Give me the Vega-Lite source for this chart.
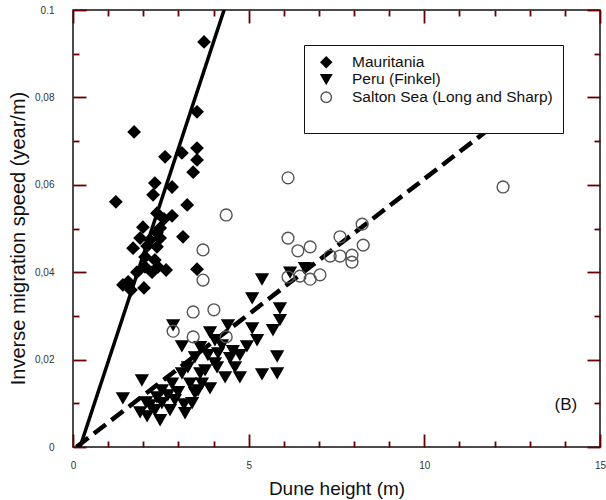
{
  "$schema": "https://vega.github.io/schema/vega-lite/v6.json",
  "width": 527,
  "height": 437,
  "autosize": "none",
  "padding": {"left": 73, "top": 10, "right": 6, "bottom": 53},
  "config": {
    "view": {"stroke": "#111", "strokeWidth": 1.5},
    "font": "Liberation Sans",
    "axis": {"domain": false, "grid": false, "labelFont": "Liberation Sans", "labelFontSize": 10, "labelColor": "#333", "titleFont": "Liberation Sans", "titleFontWeight": "normal", "titleColor": "#111", "labelFlush": false, "labelOverlap": false}
  },
  "datasets": {
    "pts": [
      {"site": "Mauritania", "h": 3.73, "v": 0.0927},
      {"site": "Mauritania", "h": 3.53, "v": 0.0767},
      {"site": "Mauritania", "h": 1.74, "v": 0.0721},
      {"site": "Mauritania", "h": 2.62, "v": 0.0664},
      {"site": "Mauritania", "h": 3.10, "v": 0.0673},
      {"site": "Mauritania", "h": 3.53, "v": 0.0684},
      {"site": "Mauritania", "h": 3.53, "v": 0.0657},
      {"site": "Mauritania", "h": 3.42, "v": 0.0629},
      {"site": "Mauritania", "h": 2.33, "v": 0.0604},
      {"site": "Mauritania", "h": 2.82, "v": 0.0595},
      {"site": "Mauritania", "h": 2.28, "v": 0.0577},
      {"site": "Mauritania", "h": 1.22, "v": 0.0561},
      {"site": "Mauritania", "h": 3.25, "v": 0.0554},
      {"site": "Mauritania", "h": 2.39, "v": 0.0535},
      {"site": "Mauritania", "h": 2.82, "v": 0.0529},
      {"site": "Mauritania", "h": 2.59, "v": 0.0522},
      {"site": "Mauritania", "h": 1.99, "v": 0.0503},
      {"site": "Mauritania", "h": 2.48, "v": 0.0501},
      {"site": "Mauritania", "h": 2.39, "v": 0.0490},
      {"site": "Mauritania", "h": 2.19, "v": 0.0474},
      {"site": "Mauritania", "h": 1.91, "v": 0.0478},
      {"site": "Mauritania", "h": 2.48, "v": 0.0478},
      {"site": "Mauritania", "h": 3.13, "v": 0.0481},
      {"site": "Mauritania", "h": 1.71, "v": 0.0455},
      {"site": "Mauritania", "h": 2.11, "v": 0.0460},
      {"site": "Mauritania", "h": 2.39, "v": 0.0458},
      {"site": "Mauritania", "h": 2.05, "v": 0.0435},
      {"site": "Mauritania", "h": 2.33, "v": 0.0428},
      {"site": "Mauritania", "h": 2.05, "v": 0.0412},
      {"site": "Mauritania", "h": 2.42, "v": 0.0412},
      {"site": "Mauritania", "h": 2.65, "v": 0.0405},
      {"site": "Mauritania", "h": 1.82, "v": 0.0400},
      {"site": "Mauritania", "h": 3.53, "v": 0.0407},
      {"site": "Mauritania", "h": 1.42, "v": 0.0371},
      {"site": "Mauritania", "h": 2.02, "v": 0.0364},
      {"site": "Mauritania", "h": 1.65, "v": 0.0359},
      {"site": "Mauritania", "h": 1.57, "v": 0.0378},
      {"site": "Mauritania", "h": 2.25, "v": 0.0400},
      {"site": "Peru (Finkel)", "h": 2.85, "v": 0.0279},
      {"site": "Peru (Finkel)", "h": 3.10, "v": 0.0231},
      {"site": "Peru (Finkel)", "h": 3.90, "v": 0.0263},
      {"site": "Peru (Finkel)", "h": 4.04, "v": 0.0245},
      {"site": "Peru (Finkel)", "h": 4.41, "v": 0.0279},
      {"site": "Peru (Finkel)", "h": 1.96, "v": 0.0153},
      {"site": "Peru (Finkel)", "h": 1.42, "v": 0.0112},
      {"site": "Peru (Finkel)", "h": 2.08, "v": 0.0103},
      {"site": "Peru (Finkel)", "h": 2.53, "v": 0.0101},
      {"site": "Peru (Finkel)", "h": 3.16, "v": 0.0098},
      {"site": "Peru (Finkel)", "h": 2.11, "v": 0.0071},
      {"site": "Peru (Finkel)", "h": 1.91, "v": 0.0080},
      {"site": "Peru (Finkel)", "h": 3.47, "v": 0.0206},
      {"site": "Peru (Finkel)", "h": 3.27, "v": 0.0183},
      {"site": "Peru (Finkel)", "h": 3.10, "v": 0.0169},
      {"site": "Peru (Finkel)", "h": 2.82, "v": 0.0146},
      {"site": "Peru (Finkel)", "h": 2.53, "v": 0.0130},
      {"site": "Peru (Finkel)", "h": 2.39, "v": 0.0114},
      {"site": "Peru (Finkel)", "h": 2.19, "v": 0.0096},
      {"site": "Peru (Finkel)", "h": 2.33, "v": 0.0085},
      {"site": "Peru (Finkel)", "h": 3.62, "v": 0.0229},
      {"site": "Peru (Finkel)", "h": 4.13, "v": 0.0215},
      {"site": "Peru (Finkel)", "h": 4.04, "v": 0.0192},
      {"site": "Peru (Finkel)", "h": 3.76, "v": 0.0176},
      {"site": "Peru (Finkel)", "h": 3.47, "v": 0.0124},
      {"site": "Peru (Finkel)", "h": 3.67, "v": 0.0146},
      {"site": "Peru (Finkel)", "h": 3.90, "v": 0.0135},
      {"site": "Peru (Finkel)", "h": 3.62, "v": 0.0169},
      {"site": "Peru (Finkel)", "h": 3.33, "v": 0.0146},
      {"site": "Peru (Finkel)", "h": 5.38, "v": 0.0384},
      {"site": "Peru (Finkel)", "h": 5.10, "v": 0.0341},
      {"site": "Peru (Finkel)", "h": 5.89, "v": 0.0318},
      {"site": "Peru (Finkel)", "h": 5.89, "v": 0.0291},
      {"site": "Peru (Finkel)", "h": 5.69, "v": 0.0268},
      {"site": "Peru (Finkel)", "h": 5.10, "v": 0.0272},
      {"site": "Peru (Finkel)", "h": 5.24, "v": 0.0245},
      {"site": "Peru (Finkel)", "h": 4.95, "v": 0.0231},
      {"site": "Peru (Finkel)", "h": 4.55, "v": 0.0220},
      {"site": "Peru (Finkel)", "h": 4.47, "v": 0.0204},
      {"site": "Peru (Finkel)", "h": 5.81, "v": 0.0208},
      {"site": "Peru (Finkel)", "h": 5.38, "v": 0.0167},
      {"site": "Peru (Finkel)", "h": 5.81, "v": 0.0169},
      {"site": "Peru (Finkel)", "h": 4.61, "v": 0.0183},
      {"site": "Peru (Finkel)", "h": 4.75, "v": 0.0160},
      {"site": "Peru (Finkel)", "h": 4.10, "v": 0.0183},
      {"site": "Peru (Finkel)", "h": 3.56, "v": 0.0130},
      {"site": "Peru (Finkel)", "h": 3.39, "v": 0.0101},
      {"site": "Peru (Finkel)", "h": 3.19, "v": 0.0078},
      {"site": "Peru (Finkel)", "h": 6.18, "v": 0.0400},
      {"site": "Peru (Finkel)", "h": 6.60, "v": 0.0410},
      {"site": "Peru (Finkel)", "h": 2.70, "v": 0.0119},
      {"site": "Peru (Finkel)", "h": 2.99, "v": 0.0126},
      {"site": "Peru (Finkel)", "h": 2.76, "v": 0.0085},
      {"site": "Peru (Finkel)", "h": 2.48, "v": 0.0062},
      {"site": "Peru (Finkel)", "h": 2.90, "v": 0.0108},
      {"site": "Peru (Finkel)", "h": 4.24, "v": 0.0233},
      {"site": "Peru (Finkel)", "h": 4.75, "v": 0.0211},
      {"site": "Peru (Finkel)", "h": 3.84, "v": 0.0211},
      {"site": "Peru (Finkel)", "h": 4.33, "v": 0.0160},
      {"site": "Salton Sea (Long and Sharp)", "h": 6.12, "v": 0.0616},
      {"site": "Salton Sea (Long and Sharp)", "h": 4.36, "v": 0.0531},
      {"site": "Salton Sea (Long and Sharp)", "h": 3.70, "v": 0.0451},
      {"site": "Salton Sea (Long and Sharp)", "h": 3.70, "v": 0.0382},
      {"site": "Salton Sea (Long and Sharp)", "h": 3.42, "v": 0.0309},
      {"site": "Salton Sea (Long and Sharp)", "h": 4.01, "v": 0.0314},
      {"site": "Salton Sea (Long and Sharp)", "h": 2.85, "v": 0.0265},
      {"site": "Salton Sea (Long and Sharp)", "h": 3.42, "v": 0.0252},
      {"site": "Salton Sea (Long and Sharp)", "h": 4.36, "v": 0.0252},
      {"site": "Salton Sea (Long and Sharp)", "h": 6.12, "v": 0.0478},
      {"site": "Salton Sea (Long and Sharp)", "h": 6.40, "v": 0.0449},
      {"site": "Salton Sea (Long and Sharp)", "h": 6.75, "v": 0.0458},
      {"site": "Salton Sea (Long and Sharp)", "h": 8.23, "v": 0.0510},
      {"site": "Salton Sea (Long and Sharp)", "h": 7.60, "v": 0.0481},
      {"site": "Salton Sea (Long and Sharp)", "h": 8.26, "v": 0.0462},
      {"site": "Salton Sea (Long and Sharp)", "h": 7.32, "v": 0.0437},
      {"site": "Salton Sea (Long and Sharp)", "h": 7.60, "v": 0.0437},
      {"site": "Salton Sea (Long and Sharp)", "h": 7.94, "v": 0.0439},
      {"site": "Salton Sea (Long and Sharp)", "h": 7.94, "v": 0.0423},
      {"site": "Salton Sea (Long and Sharp)", "h": 6.12, "v": 0.0389},
      {"site": "Salton Sea (Long and Sharp)", "h": 6.46, "v": 0.0391},
      {"site": "Salton Sea (Long and Sharp)", "h": 6.75, "v": 0.0384},
      {"site": "Salton Sea (Long and Sharp)", "h": 7.03, "v": 0.0394},
      {"site": "Salton Sea (Long and Sharp)", "h": 12.24, "v": 0.0595}
    ],
    "solid": [{"h": 0.2, "v": 0}, {"h": 4.3, "v": 0.1}],
    "dashed": [{"h": 0.1, "v": 0}, {"h": 12.3, "v": 0.0756}],
    "tag": [{"h": 14.03, "v": 0.0095, "label": "(B)"}]
  },
  "layer": [
    {
      "data": {"name": "solid"},
      "mark": {"type": "line", "color": "#000", "strokeWidth": 3.5, "clip": true},
      "encoding": {
        "x": {"field": "h", "type": "quantitative", "scale": {"domain": [0, 15], "nice": false, "zero": false},
          "axis": {"orient": "bottom", "values": [0, 5, 10, 15], "ticks": true, "tickColor": "#660000", "tickWidth": 1.8, "offset": -13, "tickSize": 13, "labelPadding": 13, "title": "Dune height (m)", "titleFontSize": 19, "titleY": 54, "titleBaseline": "middle"}},
        "y": {"field": "v", "type": "quantitative", "scale": {"domain": [0, 0.1], "nice": false, "zero": false},
          "axis": {"orient": "left", "values": [0, 0.02, 0.04, 0.06, 0.08, 0.1], "ticks": true, "tickColor": "#660000", "tickWidth": 1.8, "offset": -13, "tickSize": 13, "labelPadding": 19,
            "labelExpr": "datum.value == 0 ? '0' : datum.value > 0.099 ? '0.1' : replace(format(datum.value, '.2f'), '.', ',')",
            "title": "Inverse migration speed (year/m)", "titleFontSize": 20, "titleX": -68, "titleY": 228, "titleBaseline": "middle"}}
      }
    },
    {
      "data": {"name": "dashed"},
      "mark": {"type": "line", "color": "#000", "strokeWidth": 4.5, "strokeDash": [15, 7], "strokeCap": "butt", "clip": true},
      "encoding": {
        "x": {"field": "h", "type": "quantitative", "scale": {"domain": [0, 15], "nice": false, "zero": false},
          "axis": {"orient": "bottom", "values": [1, 2, 3, 4, 6, 7, 8, 9, 11, 12, 13, 14], "ticks": true, "tickColor": "#660000", "tickWidth": 1.8, "offset": -6, "tickSize": 6, "labels": false, "title": null}},
        "y": {"field": "v", "type": "quantitative", "scale": {"domain": [0, 0.1], "nice": false, "zero": false},
          "axis": {"orient": "left", "values": [0.01, 0.03, 0.05, 0.07, 0.09], "ticks": true, "tickColor": "#660000", "tickWidth": 1.8, "offset": -6, "tickSize": 6, "labels": false, "title": null}}
      }
    },
    {
      "data": {"name": "pts"},
      "mark": {"type": "point", "size": 140, "strokeWidth": 1.4, "opacity": 1},
      "encoding": {
        "x": {"field": "h", "type": "quantitative", "scale": {"domain": [0, 15], "nice": false, "zero": false},
          "axis": {"orient": "top", "values": [0, 5, 10, 15], "ticks": true, "tickColor": "#660000", "tickWidth": 1.8, "offset": -13, "tickSize": 13, "labels": false, "title": null}},
        "y": {"field": "v", "type": "quantitative", "scale": {"domain": [0, 0.1], "nice": false, "zero": false},
          "axis": {"orient": "right", "values": [0, 0.02, 0.04, 0.06, 0.08, 0.1], "ticks": true, "tickColor": "#660000", "tickWidth": 1.8, "offset": -13, "tickSize": 13, "labels": false, "title": null}},
        "shape": {"field": "site", "type": "nominal",
          "scale": {"domain": ["Mauritania", "Peru (Finkel)", "Salton Sea (Long and Sharp)"], "range": ["diamond", "triangle-down", "circle"]},
          "legend": {"orient": "none", "legendX": 231, "legendY": 35, "title": " ", "titleOrient": "bottom", "titleFontSize": 14, "titlePadding": 4,
            "padding": 9.5, "fillColor": "white", "strokeColor": "#111", "labelFont": "Liberation Sans", "labelFontSize": 15.5, "labelLimit": 400,
            "labelColor": "#111", "symbolOffset": 5, "labelOffset": 18, "rowPadding": 0, "symbolStrokeWidth": 1.4, "symbolSize": 110}},
        "fill": {"field": "site", "type": "nominal",
          "scale": {"domain": ["Mauritania", "Peru (Finkel)", "Salton Sea (Long and Sharp)"], "range": ["#000", "#000", "transparent"]}},
        "stroke": {"field": "site", "type": "nominal",
          "scale": {"domain": ["Mauritania", "Peru (Finkel)", "Salton Sea (Long and Sharp)"], "range": ["#000", "#000", "#555"]}}
      }
    },
    {
      "data": {"name": "tag"},
      "mark": {"type": "text", "font": "Liberation Sans", "fontSize": 17, "color": "#111"},
      "encoding": {
        "x": {"field": "h", "type": "quantitative", "scale": {"domain": [0, 15], "nice": false, "zero": false},
          "axis": {"orient": "top", "values": [1, 2, 3, 4, 6, 7, 8, 9, 11, 12, 13, 14], "ticks": true, "tickColor": "#660000", "tickWidth": 1.8, "offset": -6, "tickSize": 6, "labels": false, "title": null}},
        "y": {"field": "v", "type": "quantitative", "scale": {"domain": [0, 0.1], "nice": false, "zero": false},
          "axis": {"orient": "right", "values": [0.01, 0.03, 0.05, 0.07, 0.09], "ticks": true, "tickColor": "#660000", "tickWidth": 1.8, "offset": -6, "tickSize": 6, "labels": false, "title": null}},
        "text": {"field": "label"}
      }
    }
  ],
  "resolve": {"axis": {"x": "independent", "y": "independent"}}
}
